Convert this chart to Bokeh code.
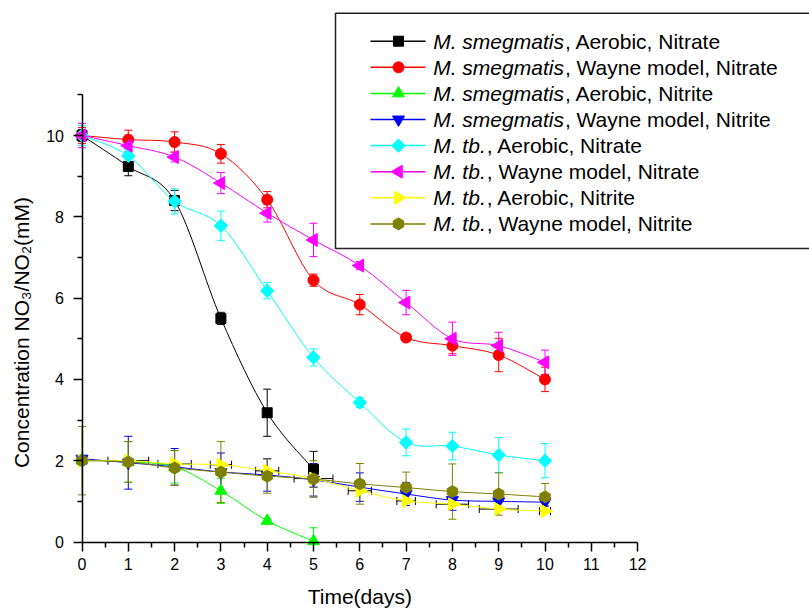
import numpy as np
from bokeh.plotting import figure
from bokeh.models import (ColumnDataSource, Range1d, LinearAxis, FixedTicker,
                          Whisker, TeeHead, Label)
from bokeh.core.properties import value
from bokeh.embed import file_html
from bokeh.resources import INLINE

# ---------------- data ----------------
days = [0, 1, 2, 3, 4, 5, 6, 7, 8, 9, 10]
days_short = [0, 1, 2, 3, 4, 5]

smeg_aer_no3 = [10.0, 9.24, 8.40, 5.50, 3.18, 1.79]
smeg_aer_no3_err = [0.15, 0.23, 0.25, 0.15, 0.58, 0.44]

smeg_wayne_no3 = [10.0, 9.90, 9.84, 9.55, 8.42, 6.44, 5.84, 5.03, 4.83, 4.60, 4.00]
smeg_wayne_no3_err = [0.20, 0.23, 0.25, 0.23, 0.20, 0.15, 0.25, 0.10, 0.20, 0.41, 0.30]

smeg_aer_no2 = [2.02, 1.97, 1.85, 1.26, 0.52, 0.02]
smeg_aer_no2_err = [0.10, 0.50, 0.40, 0.31, 0.05, 0.33]

smeg_wayne_no2 = [2.05, 1.95, 1.85, 1.72, 1.65, 1.53, 1.35, 1.18, 1.03, 1.00, 0.98]
smeg_wayne_no2_err = [0.05, 0.65, 0.45, 0.47, 0.40, 0.40, 0.35, 0.28, 0.25, 0.15, 0.10]

tb_aer_no3 = [10.0, 9.50, 8.38, 7.78, 6.18, 4.54, 3.43, 2.45, 2.36, 2.14, 2.00]
tb_aer_no3_err = [0.25, 0.15, 0.31, 0.36, 0.20, 0.21, 0.12, 0.33, 0.34, 0.43, 0.42]

tb_wayne_no3 = [10.0, 9.75, 9.47, 8.83, 8.09, 7.43, 6.80, 5.89, 5.00, 4.83, 4.42]
tb_wayne_no3_err = [0.30, 0.15, 0.12, 0.26, 0.22, 0.41, 0.10, 0.30, 0.41, 0.33, 0.30]

tb_aer_no2 = [2.00, 2.00, 1.92, 1.90, 1.75, 1.56, 1.26, 1.01, 0.93, 0.81, 0.76]
tb_aer_no2_xerr = [0.10, 0.44, 0.36, 0.23, 0.25, 0.42, 0.25, 0.20, 0.35, 0.42, 0.12]

tb_wayne_no2 = [2.00, 1.97, 1.82, 1.72, 1.62, 1.55, 1.43, 1.34, 1.24, 1.18, 1.11]
tb_wayne_no2_err = [0.84, 0.50, 0.43, 0.75, 0.42, 0.45, 0.50, 0.38, 0.68, 0.52, 0.33]

legend_italic = ["M. smegmatis", "M. smegmatis", "M. smegmatis", "M. smegmatis",
                 "M. tb.", "M. tb.", "M. tb.", "M. tb."]
legend_rest = [", Aerobic, Nitrate", ", Wayne model, Nitrate", ", Aerobic, Nitrite",
               ", Wayne model, Nitrite", ", Aerobic, Nitrate", ", Wayne model, Nitrate",
               ", Aerobic, Nitrite", ", Wayne model, Nitrite"]

x_ticks = [0, 1, 2, 3, 4, 5, 6, 7, 8, 9, 10, 11, 12]
x_minor_ticks = [0.5, 1.5, 2.5, 3.5, 4.5, 5.5, 6.5, 7.5, 8.5, 9.5, 10.5, 11.5]
y_ticks = [0, 2, 4, 6, 8, 10]
y_minor_ticks = [1, 3, 5, 7, 9, 11]

x_title = "Time(days)"
y_title = "Concentration NO\u2083/NO\u2082(mM)"

# ---------------- styles ----------------
FONT = "Liberation Sans"
series = [
    dict(x=days_short, y=smeg_aer_no3, err=smeg_aer_no3_err, color="#000000", marker="square", size=10, angle=0.0),
    dict(x=days, y=smeg_wayne_no3, err=smeg_wayne_no3_err, color="#FF0000", marker="circle", size=11, angle=0.0),
    dict(x=days_short, y=smeg_aer_no2, err=smeg_aer_no2_err, color="#00FF00", marker="triangle", size=12, angle=0.0),
    dict(x=days, y=smeg_wayne_no2, err=smeg_wayne_no2_err, color="#0000FF", marker="inverted_triangle", size=12, angle=0.0),
    dict(x=days, y=tb_aer_no3, err=tb_aer_no3_err, color="#00FFFF", marker="square", size=9.5, angle=np.pi / 4),
    dict(x=days, y=tb_wayne_no3, err=tb_wayne_no3_err, color="#FF00FF", marker="triangle", size=13, angle=np.pi / 2),
    dict(x=days, y=tb_aer_no2, xerr=tb_aer_no2_xerr, color="#FFFF00", marker="triangle", size=13, angle=-np.pi / 2),
    dict(x=days, y=tb_wayne_no2, err=tb_wayne_no2_err, color="#808000", marker="hex", size=12, angle=np.pi / 2),
]

# Arial / Liberation Sans advance widths (1/1000 em) for measuring the italic part
ADV = {'M': 833, '.': 278, ' ': 278, 's': 500, 'm': 833, 'e': 556, 'g': 556,
       'a': 556, 't': 278, 'i': 222, 'b': 556}


def text_width(s, px):
    return sum(ADV.get(ch, 556) for ch in s) / 1000.0 * px


def catmull_bezier(xs, ys):
    n = len(xs)
    d = dict(x0=[], y0=[], x1=[], y1=[], cx0=[], cy0=[], cx1=[], cy1=[])
    for i in range(n - 1):
        a, b, c, e = max(i - 1, 0), i, i + 1, min(i + 2, n - 1)
        d["x0"].append(xs[b]); d["y0"].append(ys[b])
        d["x1"].append(xs[c]); d["y1"].append(ys[c])
        d["cx0"].append(xs[b] + (xs[c] - xs[a]) / 6.0)
        d["cy0"].append(ys[b] + (ys[c] - ys[a]) / 6.0)
        d["cx1"].append(xs[c] - (xs[e] - xs[b]) / 6.0)
        d["cy1"].append(ys[c] - (ys[e] - ys[b]) / 6.0)
    return d


# ---------------- layout ----------------
W, H = 809, 609
X0_PX, X_SCALE = 81.5, 46.3     # canvas px of x=0, px per day
Y0_PX, Y_SCALE = 541.5, 40.65   # canvas px (from top) of y=0, px per unit

p = figure(width=W, height=H,
           x_range=Range1d(-X0_PX / X_SCALE, (W - X0_PX) / X_SCALE),
           y_range=Range1d(-(H - Y0_PX) / Y_SCALE, Y0_PX / Y_SCALE),
           x_axis_location=None, y_axis_location=None,
           toolbar_location=None, output_backend="svg", min_border=0)
p.outline_line_color = None
p.background_fill_color = "white"
p.border_fill_color = "white"
p.grid.visible = False
p.extra_x_ranges = {"px": Range1d(0, W)}
p.extra_y_ranges = {"px": Range1d(H, 0)}


def style_axis(ax):
    ax.axis_line_color = "black"
    ax.axis_line_width = 1.5
    ax.major_tick_line_color = "black"
    ax.minor_tick_line_color = "black"
    ax.major_tick_line_width = 1.5
    ax.minor_tick_line_width = 1.5
    ax.major_tick_in = 0
    ax.major_tick_out = 9
    ax.minor_tick_in = 0
    ax.minor_tick_out = 5
    ax.major_label_text_font = FONT
    ax.major_label_text_font_size = "16px"
    ax.major_label_text_color = "black"


xaxis = LinearAxis(fixed_location=0, bounds=(0, 12),
                   ticker=FixedTicker(ticks=x_ticks, minor_ticks=x_minor_ticks))
style_axis(xaxis)
xaxis.major_label_standoff = 7
p.add_layout(xaxis, "below")

yaxis = LinearAxis(fixed_location=0, bounds=(0, 11),
                   ticker=FixedTicker(ticks=y_ticks, minor_ticks=y_minor_ticks))
style_axis(yaxis)
yaxis.major_label_standoff = 9
p.add_layout(yaxis, "left")

# ---------------- series ----------------
for s in series:
    c = s["color"]
    xs, ys = s["x"], s["y"]
    if "err" in s:
        lo = [max(v - e, 0.0) for v, e in zip(ys, s["err"])]
        hi = [v + e for v, e in zip(ys, s["err"])]
        src = ColumnDataSource(dict(x=xs, lo=lo, hi=hi))
        p.add_layout(Whisker(base="x", lower="lo", upper="hi", source=src,
                             line_color=c, line_width=1,
                             upper_head=TeeHead(size=8, line_color=c, line_width=1),
                             lower_head=TeeHead(size=8, line_color=c, line_width=1)))
    if "xerr" in s:
        lo = [v - e for v, e in zip(xs, s["xerr"])]
        hi = [v + e for v, e in zip(xs, s["xerr"])]
        src = ColumnDataSource(dict(y=ys, lo=lo, hi=hi))
        p.add_layout(Whisker(base="y", lower="lo", upper="hi", dimension="width", source=src,
                             line_color="black", line_width=1,
                             upper_head=TeeHead(size=8, line_color="black", line_width=1),
                             lower_head=TeeHead(size=8, line_color="black", line_width=1)))
    p.bezier(x0="x0", y0="y0", x1="x1", y1="y1", cx0="cx0", cy0="cy0", cx1="cx1", cy1="cy1",
             source=ColumnDataSource(catmull_bezier(xs, ys)), line_color=c, line_width=1)
    p.scatter(xs, ys, marker=s["marker"], size=s["size"], angle=s["angle"],
              fill_color=c, line_color=c)

# ---------------- legend (drawn in pixel coordinates) ----------------
LEG_FS = 21
p.quad(left=[335], right=[W + 20], top=[12.7], bottom=[248], x_range_name="px", y_range_name="px",
       fill_color="white", line_color="#222222", line_width=1.5)
row_y = [40.7 + 26.1 * i for i in range(len(series))]
for i, s in enumerate(series):
    c = s["color"]
    p.line([370, 425], [row_y[i], row_y[i]], x_range_name="px", y_range_name="px",
           line_color=c, line_width=1.5)
    p.scatter([398], [row_y[i]], marker=s["marker"], size=s["size"], angle=s["angle"],
              fill_color=c, line_color=c, x_range_name="px", y_range_name="px")
tx = 432.7
p.text(x=[tx] * len(series), y=row_y, text=legend_italic, x_range_name="px", y_range_name="px",
       text_font=value(FONT), text_font_size=value(f"{LEG_FS}px"), text_font_style="italic",
       text_align="left", text_baseline="middle", text_color="black")
p.text(x=[tx + text_width(t, LEG_FS) + 1 for t in legend_italic], y=row_y, text=legend_rest,
       x_range_name="px", y_range_name="px",
       text_font=value(FONT), text_font_size=value(f"{LEG_FS}px"), text_font_style="normal",
       text_align="left", text_baseline="middle", text_color="black")

# ---------------- axis titles ----------------
p.add_layout(Label(x=X0_PX + 6 * X_SCALE, y=596, x_range_name="px", y_range_name="px",
                   text=x_title, text_font=FONT, text_font_size="21px", text_color="black",
                   text_align="center", text_baseline="middle"))
p.add_layout(Label(x=21, y=332, x_range_name="px", y_range_name="px",
                   text=y_title, text_font=FONT, text_font_size="21px", text_color="black",
                   angle=np.pi / 2, text_align="center", text_baseline="middle"))

open("out.html", "w").write(file_html(p, INLINE))
